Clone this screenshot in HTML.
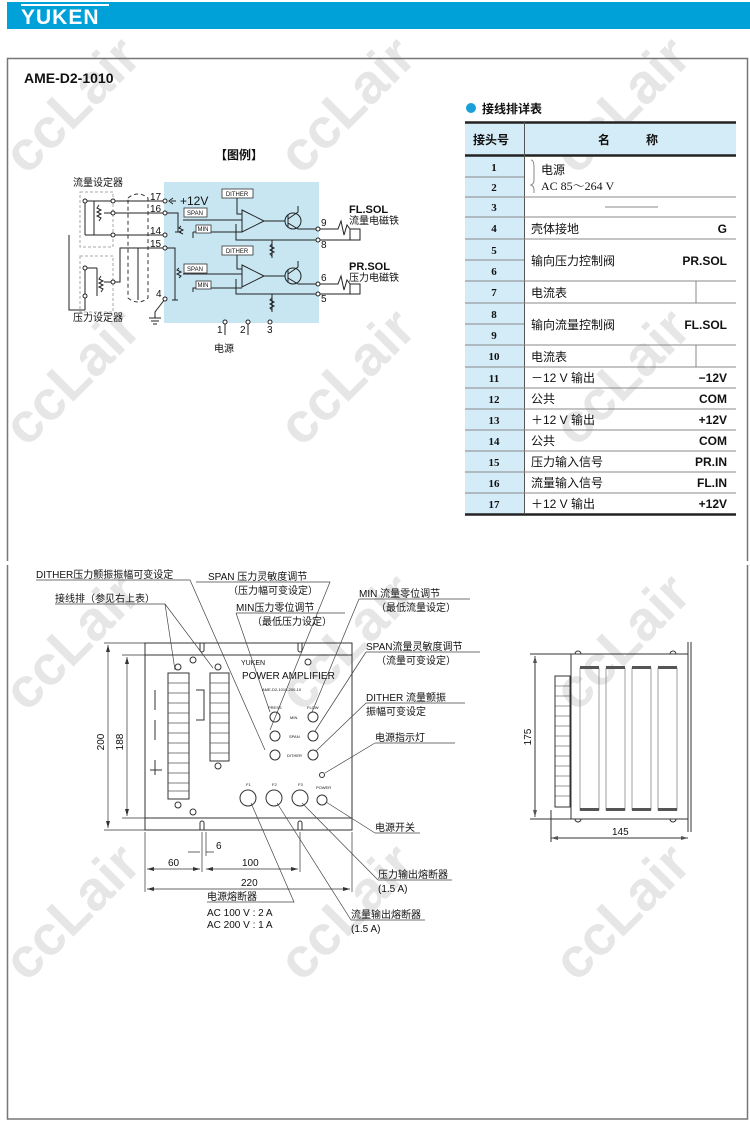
<!DOCTYPE html>
<html><head><meta charset="utf-8"><style>
html,body{margin:0;padding:0;background:#fff;}
svg{display:block;}
text{font-family:"Liberation Sans","Noto Sans CJK SC",sans-serif;fill:#111;}
.s{font-family:"Liberation Serif","Noto Serif CJK SC",serif;}
.wm{font-family:"Liberation Sans",sans-serif;font-weight:bold;font-size:56px;fill:#e6e6e6;}
</style></head><body>
<svg width="750" height="1124" viewBox="0 0 750 1124" xmlns="http://www.w3.org/2000/svg">
<g>
<text class="wm" transform="translate(85,118) rotate(-45)" text-anchor="middle">ccLair</text>
<text class="wm" transform="translate(360,118) rotate(-45)" text-anchor="middle">ccLair</text>
<text class="wm" transform="translate(635,118) rotate(-45)" text-anchor="middle">ccLair</text>
<text class="wm" transform="translate(85,390) rotate(-45)" text-anchor="middle">ccLair</text>
<text class="wm" transform="translate(360,390) rotate(-45)" text-anchor="middle">ccLair</text>
<text class="wm" transform="translate(635,390) rotate(-45)" text-anchor="middle">ccLair</text>
<text class="wm" transform="translate(85,655) rotate(-45)" text-anchor="middle">ccLair</text>
<text class="wm" transform="translate(360,655) rotate(-45)" text-anchor="middle">ccLair</text>
<text class="wm" transform="translate(635,655) rotate(-45)" text-anchor="middle">ccLair</text>
<text class="wm" transform="translate(85,925) rotate(-45)" text-anchor="middle">ccLair</text>
<text class="wm" transform="translate(360,925) rotate(-45)" text-anchor="middle">ccLair</text>
<text class="wm" transform="translate(635,925) rotate(-45)" text-anchor="middle">ccLair</text>
</g>
<rect x="7" y="2" width="743" height="27" fill="#00a0d8"/>
<text x="21" y="24" style="font-size:21px;font-weight:bold;fill:#fff;letter-spacing:1px">YUKEN</text>
<rect x="21" y="4" width="88" height="2" fill="#fff"/>
<g stroke="#777" stroke-width="1.5" fill="none">
<path d="M7.5,561 V58.5 H747.5 V561"/>
<path d="M7.5,565 V1119 H747.5 V565"/>
</g>
<text x="24" y="83" style="font-size:14px;font-weight:bold">AME-D2-1010</text>

<circle cx="471" cy="108" r="5" fill="#1aa0d8"/>
<text x="482" y="113" style="font-size:12px;font-weight:bold">接线排详表</text>
<rect x="465" y="122" width="271" height="33" fill="#d4ecf7"/>
<rect x="465" y="155" width="59" height="360" fill="#d4ecf7"/>
<g stroke="#222" fill="none">
<line x1="465" y1="122.5" x2="736" y2="122.5" stroke-width="2.5"/>
<line x1="465" y1="155.5" x2="736" y2="155.5" stroke-width="2.5"/>
<line x1="465" y1="514.5" x2="736" y2="514.5" stroke-width="2.5"/>
<line x1="524.5" y1="122" x2="524.5" y2="514" stroke="#555"/>
</g>
<g stroke="#888" stroke-width="1">
<line x1="465" y1="177" x2="524" y2="177"/>
<line x1="465" y1="197" x2="736" y2="197"/>
<line x1="465" y1="217" x2="736" y2="217"/>
<line x1="465" y1="239" x2="736" y2="239"/>
<line x1="465" y1="260" x2="524" y2="260"/>
<line x1="465" y1="281" x2="736" y2="281"/>
<line x1="465" y1="303" x2="736" y2="303"/>
<line x1="465" y1="324" x2="524" y2="324"/>
<line x1="465" y1="345" x2="736" y2="345"/>
<line x1="465" y1="367" x2="736" y2="367"/>
<line x1="465" y1="388" x2="736" y2="388"/>
<line x1="465" y1="409" x2="736" y2="409"/>
<line x1="465" y1="430" x2="736" y2="430"/>
<line x1="465" y1="451" x2="736" y2="451"/>
<line x1="465" y1="472" x2="736" y2="472"/>
<line x1="465" y1="493" x2="736" y2="493"/>
<line x1="605" y1="207" x2="658" y2="207"/>
<path d="M524,281 H696 V303 M524,345 H696 V367" fill="none"/>
<path d="M531,160 q3,0 3,8 v12 q0,4 -3,5 q3,1 3,5 v3" fill="none"/>
</g>
<text x="473" y="144" style="font-size:12px;font-weight:bold">接头号</text>
<text x="598" y="144" style="font-size:12px;font-weight:bold">名</text>
<text x="646" y="144" style="font-size:12px;font-weight:bold">称</text>
<g class="s" style="font-size:11px;font-weight:bold" text-anchor="middle">
<text class="s" x="494" y="171">1</text><text class="s" x="494" y="191">2</text><text class="s" x="494" y="211">3</text>
<text class="s" x="494" y="232">4</text><text class="s" x="494" y="254">5</text><text class="s" x="494" y="275">6</text>
<text class="s" x="494" y="296">7</text><text class="s" x="494" y="318">8</text><text class="s" x="494" y="339">9</text>
<text class="s" x="494" y="360">10</text><text class="s" x="494" y="382">11</text><text class="s" x="494" y="403">12</text>
<text class="s" x="494" y="424">13</text><text class="s" x="494" y="445">14</text><text class="s" x="494" y="466">15</text>
<text class="s" x="494" y="487">16</text><text class="s" x="494" y="508">17</text>
</g>
<g style="font-size:12px">
<text x="541" y="174">电源</text>
<text class="s" x="541" y="190" style="font-size:12px">AC 85～264 V</text>
<text x="531" y="233">壳体接地</text>
<text x="531" y="265">输向压力控制阀</text>
<text x="531" y="297">电流表</text>
<text x="531" y="329">输向流量控制阀</text>
<text x="531" y="361">电流表</text>
<text x="531" y="382">－12 V 输出</text>
<text x="531" y="403">公共</text>
<text x="531" y="424">＋12 V 输出</text>
<text x="531" y="445">公共</text>
<text x="531" y="466">压力输入信号</text>
<text x="531" y="487">流量输入信号</text>
<text x="531" y="508">＋12 V 输出</text>
</g>
<g style="font-size:12px;font-weight:bold" text-anchor="end">
<text x="727" y="233">G</text><text x="727" y="265">PR.SOL</text><text x="727" y="329">FL.SOL</text>
<text x="727" y="382">−12V</text><text x="727" y="403">COM</text><text x="727" y="424">+12V</text>
<text x="727" y="445">COM</text><text x="727" y="466">PR.IN</text><text x="727" y="487">FL.IN</text><text x="727" y="508">+12V</text>
</g>

<text x="215" y="159" style="font-size:12px;font-weight:bold">【图例】</text>
<rect x="164" y="182" width="155" height="141" fill="#c7e6f2"/>
<text x="73" y="186" style="font-size:10px">流量设定器</text>
<text x="73" y="321" style="font-size:10px">压力设定器</text>
<g stroke="#aaa" stroke-dasharray="3,2" fill="none">
<rect x="80" y="192" width="33" height="55"/>
<rect x="80" y="256" width="33" height="56"/>
</g>
<g stroke="#333" stroke-dasharray="4,3" fill="none" stroke-width="1">
<path d="M128,198 q10,-8 20,0 v100 q-10,8 -20,0 z"/>
</g>
<g stroke="#222" fill="none" stroke-width="1">
<path d="M85,201 H165 M85,235 H165 M85,201 V235"/>
<path d="M94,201 V235 M99,205 l-2,3 4,2 -4,2 4,2 -4,2 4,2 -2,3"/>
<path d="M104,213 H165"/>
<path d="M69,235 V310 H85 M85,268 V296 M85,268 H97 M97,268 V296 M85,296 V310"/>
<path d="M101,276 l-2,3 4,2 -4,2 4,2 -4,2 4,2 -2,3"/>
<path d="M104,282 H120 V248 H165"/>
<path d="M138,248 V300"/>
<path d="M165,299 L155,312 V318 M149,318 H161 M151,321 H159 M153,324 H157"/>
<path d="M176,201 l-5,0" /><path d="M173,198 l-4,3 4,3"/>
<path d="M165,213 H178 V232 M175,232 H181"/>
<path d="M181,226 l-2,2 4,2 -4,2 4,2"/>
<path d="M165,248 H175 V300 M172,300 H178"/>
<path d="M179,268 l-2,2 4,2 -4,2 4,2 -2,2"/>
<path d="M183,220 H242 M183,274 H242"/>
<path d="M193,238 V232 M193,232 H242"/>
<path d="M193,292 V288 H242"/>
<path d="M237,197 V214 H242 M237,254 V269 H242"/>
<path d="M242,210 L264,221 L242,232 Z M242,265 L264,276 L242,287 Z"/>
<path d="M264,221 H285 M264,276 H285"/>
<circle cx="293" cy="221" r="8"/><circle cx="293" cy="276" r="8"/>
<path d="M288,215 V227 M288,219 L298,212 V206 M288,223 L298,229 L318,229 M288,270 V282 M288,274 L298,267 V261 M288,278 L298,284 L318,284"/>
<path d="M236,224 V240 H318 M236,279 V294 H318"/>
<path d="M272,240 V258 M272,294 V312"/>
<path d="M272,244 l-2,2 4,2 -4,2 4,2 -4,2 2,2 M272,298 l-2,2 4,2 -4,2 4,2 -4,2 2,2"/>
<path d="M318,229 H338 l3,-8 3,14 3,-10 3,4 V240 H318 M350,229 H360 V240 H350"/>
<path d="M318,284 H338 l3,-8 3,14 3,-10 3,4 V294 H318 M350,284 H360 V294 H350"/>
<path d="M225,323 V335 M248,323 V335"/>
</g>
<g fill="#fff" stroke="#222">
<circle cx="165" cy="201" r="2"/><circle cx="165" cy="213" r="2"/><circle cx="165" cy="235" r="2"/><circle cx="165" cy="248" r="2"/><circle cx="165" cy="299" r="2"/>
<circle cx="85" cy="201" r="2"/><circle cx="113" cy="201" r="2"/><circle cx="113" cy="213" r="2"/><circle cx="113" cy="235" r="2"/><circle cx="85" cy="268" r="2"/><circle cx="85" cy="296" r="2"/><circle cx="113" cy="282" r="2"/>
<circle cx="318" cy="229" r="2"/><circle cx="318" cy="240" r="2"/><circle cx="318" cy="284" r="2"/><circle cx="318" cy="294" r="2"/>
<circle cx="225" cy="322" r="2"/><circle cx="248" cy="322" r="2"/><circle cx="270" cy="322" r="2"/>
</g>
<g fill="#fff" stroke="#333" stroke-width="0.8">
<rect x="222" y="189" width="31" height="9"/><rect x="222" y="246" width="31" height="9"/>
<rect x="184" y="208" width="23" height="9"/><rect x="184" y="264" width="23" height="9"/>
<rect x="196" y="225" width="15" height="8"/><rect x="196" y="281" width="15" height="8"/>
</g>
<g style="font-size:6px" text-anchor="middle">
<text x="237" y="196">DITHER</text><text x="237" y="253">DITHER</text>
<text x="195" y="215">SPAN</text><text x="195" y="271">SPAN</text>
<text x="203" y="231">MIN</text><text x="203" y="287">MIN</text>
</g>
<g style="font-size:10px">
<text x="150" y="200">17</text><text x="150" y="212">16</text><text x="150" y="234">14</text><text x="150" y="247">15</text><text x="156" y="297">4</text>
<text x="180" y="205" style="font-size:12px">+12V</text>
<text x="321" y="226">9</text><text x="321" y="248">8</text><text x="321" y="281">6</text><text x="321" y="302">5</text>
<text x="217" y="333">1</text><text x="240" y="333">2</text><text x="267" y="333">3</text>
<text x="349" y="213" style="font-size:11px;font-weight:bold">FL.SOL</text>
<text x="349" y="224">流量电磁铁</text>
<text x="349" y="270" style="font-size:11px;font-weight:bold">PR.SOL</text>
<text x="349" y="281">压力电磁铁</text>
<text x="214" y="352">电源</text>
</g>

<g stroke="#333" fill="none" stroke-width="1">
<path d="M145,643 H352 V830 H145 Z"/>
<path d="M145,655 H352 M145,818 H352"/>
<path d="M200,643 v7 a2,2 0 0 0 4,0 v-7 M298,643 v7 a2,2 0 0 0 4,0 v-7"/>
<path d="M200,830 v-7 a2,2 0 0 1 4,0 v7 M298,830 v-7 a2,2 0 0 1 4,0 v7"/>
<rect x="168" y="673" width="21" height="126"/>
<rect x="210" y="673" width="19" height="88"/>
<circle cx="248" cy="798" r="8"/><circle cx="274" cy="798" r="8"/><circle cx="300" cy="798" r="8"/>
<circle cx="322" cy="800" r="5"/><circle cx="322" cy="775" r="2.5"/>
<circle cx="275" cy="717" r="5"/><circle cx="275" cy="736" r="5"/><circle cx="275" cy="755" r="5"/>
<circle cx="313" cy="717" r="5"/><circle cx="313" cy="736" r="5"/><circle cx="313" cy="755" r="5"/>
<circle cx="178" cy="667" r="3"/><circle cx="178" cy="805" r="3"/><circle cx="218" cy="667" r="3"/><circle cx="218" cy="766" r="3"/>
<circle cx="193" cy="660" r="3"/><circle cx="193" cy="812" r="3"/><circle cx="308" cy="662" r="3"/>
<path d="M155,690 v20 M155,720 v20 M155,760 v15 M150,770 h12"/>
<path d="M196,690 h8 v30 h-8"/>
</g>
<g stroke="#555" stroke-width="0.7">
<path d="M168,683 h21 M168,693 h21 M168,703 h21 M168,713 h21 M168,723 h21 M168,733 h21 M168,743 h21 M168,753 h21 M168,763 h21 M168,773 h21 M168,783 h21 M168,791 h21"/>
<path d="M210,683 h19 M210,693 h19 M210,703 h19 M210,713 h19 M210,723 h19 M210,733 h19 M210,743 h19 M210,753 h19"/>
</g>
<text x="241" y="665" style="font-size:7px">YUKEN</text>
<text x="242" y="679" style="font-size:10px">POWER AMPLIFIER</text>
<text x="262" y="691" style="font-size:4px">AME-D2-1010-200-10</text>
<g style="font-size:4px"><text x="268" y="709">PRESS</text><text x="307" y="709">FLOW</text><text x="290" y="719">MIN</text><text x="289" y="738">SPAN</text><text x="287" y="757">DITHER</text><text x="316" y="789">POWER</text>
<text x="246" y="786">F1</text><text x="272" y="786">F2</text><text x="298" y="786">F3</text></g>
<g stroke="#444" stroke-width="0.7" fill="none">
<path d="M36,580 H190 L265,750"/>
<path d="M55,604 H165 L175,670 M165,604 L213,668"/>
<path d="M208,582 H330 L270,730 M208,582 L196,582"/>
<path d="M236,613 H345 M236,613 L270,712"/>
<path d="M359,599 H470 M359,599 L312,712"/>
<path d="M366,652 H480 M366,652 L315,731"/>
<path d="M366,703 H465 M366,703 L316,751"/>
<path d="M375,743 H455 M375,743 L325,773"/>
<path d="M375,833 H420 M375,833 L326,802"/>
<path d="M378,880 H452 M378,880 L302,803"/>
<path d="M351,920 H425 M351,920 L277,803"/>
<path d="M207,902 H294 L251,803"/>
</g>
<g stroke="#333" stroke-width="0.7" fill="none">
<path d="M104,643 H145 M122,655 H145 M104,830 H145 M122,818 H145"/>
<path d="M108,645 V828 M127,657 V816"/>
<path d="M145,832 V892 M352,832 V892 M202,832 V872 M300,832 V872 M206,832 V856"/>
<path d="M147,869 H200 M206,869 H298 M147,889 H350 M188,852 H200 M206,852 H214"/>
</g>
<g fill="#333">
<path d="M108,645 l-2,7 h4z M108,828 l-2,-7 h4z M127,657 l-2,7 h4z M127,816 l-2,-7 h4z"/>
<path d="M147,869 l7,-2 v4z M200,869 l-7,-2 v4z M206,869 l7,-2 v4z M298,869 l-7,-2 v4z M147,889 l7,-2 v4z M350,889 l-7,-2 v4z"/>
</g>
<g style="font-size:10px">
<text transform="translate(104,742) rotate(-90)" text-anchor="middle">200</text>
<text transform="translate(123,742) rotate(-90)" text-anchor="middle">188</text>
<text x="216" y="849">6</text>
<text x="168" y="866">60</text><text x="242" y="866">100</text><text x="241" y="886">220</text>
<text x="207" y="900">电源熔断器</text>
<text x="207" y="916">AC 100 V : 2 A</text><text x="207" y="928">AC 200 V : 1 A</text>
<text x="351" y="918">流量输出熔断器</text><text x="351" y="932">(1.5 A)</text>
<text x="378" y="878">压力输出熔断器</text><text x="378" y="892">(1.5 A)</text>
<text x="375" y="831">电源开关</text>
<text x="375" y="741">电源指示灯</text>
<text x="366" y="701">DITHER 流量颤振</text><text x="366" y="715">振幅可变设定</text>
<text x="366" y="650">SPAN流量灵敏度调节</text><text x="376" y="664">（流量可变设定）</text>
<text x="359" y="597">MIN 流量零位调节</text><text x="376" y="611">（最低流量设定）</text>
<text x="236" y="611">MIN压力零位调节</text><text x="252" y="625">（最低压力设定）</text>
<text x="208" y="580">SPAN 压力灵敏度调节</text><text x="228" y="594">（压力幅可变设定）</text>
<text x="36" y="578">DITHER压力颤振振幅可变设定</text>
<text x="55" y="602">接线排（参见右上表）</text>
</g>

<g stroke="#333" fill="none" stroke-width="1">
<rect x="571" y="654" width="117" height="165"/>
<path d="M688,642 V832 M691,642 V832"/>
<rect x="555" y="676" width="15" height="131"/>
<path d="M575,654 a3,3 0 0 1 6,0 M670,654 a3,3 0 0 1 6,0 M575,819 a3,3 0 0 0 6,0 M670,819 a3,3 0 0 0 6,0"/>
<g stroke="#777" stroke-width="0.7">
<rect x="580" y="668" width="19" height="142"/><rect x="606" y="668" width="19" height="142"/>
<rect x="632" y="668" width="19" height="142"/><rect x="658" y="668" width="19" height="142"/>
</g>
<path d="M555,686 h15 M555,696 h15 M555,706 h15 M555,716 h15 M555,726 h15 M555,736 h15 M555,746 h15 M555,756 h15 M555,766 h15 M555,776 h15 M555,786 h15 M555,796 h15" stroke-width="0.6"/>
<path d="M530,654 H571 M530,819 H571 M535,656 V817 M551,810 V842 M551,838 H688"/>
</g>
<g fill="#555"><rect x="580" y="666" width="19" height="3"/><rect x="606" y="666" width="19" height="3"/><rect x="632" y="666" width="19" height="3"/><rect x="658" y="666" width="19" height="3"/>
<rect x="580" y="808" width="19" height="3"/><rect x="606" y="808" width="19" height="3"/><rect x="632" y="808" width="19" height="3"/><rect x="658" y="808" width="19" height="3"/>
<path d="M535,656 l-2,7 h4z M535,817 l-2,-7 h4z M551,838 l7,-2 v4z M688,838 l-7,-2 v4z"/></g>
<text transform="translate(531,737) rotate(-90)" text-anchor="middle" style="font-size:10px">175</text>
<text x="612" y="835" style="font-size:10px">145</text>
</svg>
</body></html>
